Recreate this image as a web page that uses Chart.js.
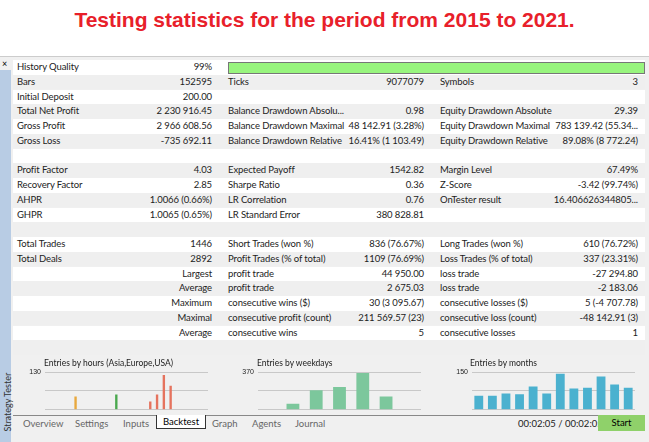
<!DOCTYPE html>
<html><head><meta charset="utf-8">
<script src="https://cdn.jsdelivr.net/npm/chart.js@4"></script>
<style>
body{margin:0;width:649px;height:442px;background:#fff;font-family:Lato,"Liberation Sans",sans-serif;overflow:hidden;position:relative}
#title{position:absolute;top:8px;left:0;width:649px;text-align:center;color:#e8202a;font:bold 21px "Liberation Sans",Arial,sans-serif}
#panel{position:absolute;top:56px;left:0;width:649px;height:386px;background:#f0f0f0;border-top:1px solid #ccc}
#strip{position:absolute;top:70px;left:0;width:11px;height:372px;background:#b8cce4}
#strip span{position:absolute;left:-28px;bottom:40px;transform:rotate(-90deg);font-size:9px;color:#333;white-space:nowrap;width:70px}
.row{position:absolute;left:13px;width:632px;height:14.7px;font-size:9.5px;letter-spacing:-0.1px;color:#222;line-height:14.7px}
.row div{position:absolute;white-space:nowrap}
.ch{position:absolute;top:364px;height:54px;width:189px}
.ct{position:absolute;top:358px;font-size:8.5px;color:#222}
#tabs{position:absolute;top:415px;left:13px;width:632px;height:16px;background:#f0f0f0;border-top:1px solid #888;font-size:9.5px;color:#666}
#tabs span{position:absolute;top:2px}
</style></head><body>
<div id="title">Testing statistics for the period from 2015 to 2021.</div>
<div id="panel"></div>
<div id="strip"><span>Strategy Tester</span></div>
<div style="position:absolute;top:58px;left:2px;font-size:9px">×</div>
<div id="rows"></div>
<div class="ch" style="left:23px"><canvas id="c1"></canvas></div>
<div class="ch" style="left:236px"><canvas id="c2"></canvas></div>
<div class="ch" style="left:450px"><canvas id="c3"></canvas></div>
<div class="ct" style="left:44px">Entries by hours (Asia,Europe,USA)</div>
<div class="ct" style="left:257px">Entries by weekdays</div>
<div class="ct" style="left:470px">Entries by months</div>
<div id="tabs">
<span style="left:10px">Overview</span><span style="left:62px">Settings</span><span style="left:110px">Inputs</span>
<span style="left:143px;top:-1px;background:#fff;border:1px solid #333;border-top:none;padding:1px 6px;color:#000">Backtest</span>
<span style="left:199px">Graph</span><span style="left:239px">Agents</span><span style="left:282px">Journal</span>
<span style="left:505px;color:#222">00:02:05 / 00:02:05</span>
<span style="left:585px;top:-1px;width:47px;height:16px;background:#8fd16a;color:#000;text-align:center;line-height:16px">Start</span>
</div>
<script>
const statRows = [
  ["History Quality","99%","","","",""],
  ["Bars","152595","Ticks","9077079","Symbols","3"],
  ["Initial Deposit","200.00","","","",""],
  ["Total Net Profit","2 230 916.45","Balance Drawdown Absolu...","0.98","Equity Drawdown Absolute","29.39"],
  ["Gross Profit","2 966 608.56","Balance Drawdown Maximal","48 142.91 (3.28%)","Equity Drawdown Maximal","783 139.42 (55.34..."],
  ["Gross Loss","-735 692.11","Balance Drawdown Relative","16.41% (1 103.49)","Equity Drawdown Relative","89.08% (8 772.24)"],
  ["","","","","",""],
  ["Profit Factor","4.03","Expected Payoff","1542.82","Margin Level","67.49%"],
  ["Recovery Factor","2.85","Sharpe Ratio","0.36","Z-Score","-3.42 (99.74%)"],
  ["AHPR","1.0066 (0.66%)","LR Correlation","0.76","OnTester result","16.406626344805..."],
  ["GHPR","1.0065 (0.65%)","LR Standard Error","380 828.81","",""],
  ["","","","","",""],
  ["Total Trades","1446","Short Trades (won %)","836 (76.67%)","Long Trades (won %)","610 (76.72%)"],
  ["Total Deals","2892","Profit Trades (% of total)","1109 (76.69%)","Loss Trades (% of total)","337 (23.31%)"],
  ["","Largest","profit trade","44 950.00","loss trade","-27 294.80"],
  ["","Average","profit trade","2 675.03","loss trade","-2 183.06"],
  ["","Maximum","consecutive wins ($)","30 (3 095.67)","consecutive losses ($)","5 (-4 707.78)"],
  ["","Maximal","consecutive profit (count)","211 569.57 (23)","consecutive loss (count)","-48 142.91 (3)"],
  ["","Average","consecutive wins","5","consecutive losses","1"],
  ["","","","","",""]
];
const hourLabels = Array.from({length:24},(_,i)=>String(i));
const hourValues = [0,0,0,0,46,0,0,0,0,0,53,0,0,0,0,29,53,120,83,0,0,0,0,0];
const hourColors = ["#e8a83e","#4aa84e","#e5735e"];
const dayLabels = ["Sun","Mon","Tue","Wed","Thu","Fri","Sat"];
const dayValues = [0,59,193,224,362,132,0];
const monthLabels = ["Jan","Feb","Mar","Apr","May","Jun","Jul","Aug","Sep","Oct","Nov","Dec"];
const monthValues = [56,56,65,62,93,65,144,85,88,133,101,88];

const rowsEl = document.getElementById("rows");
const cols = [[4,null],[null,199],[215,null],[null,411],[427,null],[null,625]];
statRows.forEach((r,i)=>{
  const d = document.createElement("div");
  d.className = "row";
  d.style.top = (60 + i*14.75) + "px";
  d.style.background = i%2 ? "#efefef" : "#fff";
  if (i === 0) d.innerHTML = '<div style="left:215px;top:2px;width:415px;height:10px;background:#98f57e;border:1px solid #777"></div>';
  r.forEach((t,j)=>{
    if (!t) return;
    const c = document.createElement("div");
    c.textContent = t;
    if (cols[j][0] !== null) c.style.left = cols[j][0] + "px";
    else c.style.right = (632 - cols[j][1]) + "px";
    d.appendChild(c);
  });
  rowsEl.appendChild(d);
});

function mini(id, labels, values, colors, max, pct) {
  new Chart(document.getElementById(id), {
    type: "bar",
    data: { labels, datasets: [{ data: values, backgroundColor: colors, barPercentage: pct, categoryPercentage: 1 }] },
    options: {
      responsive: true, maintainAspectRatio: false, animation: false,
      plugins: { legend: { display: false }, tooltip: { enabled: false } },
      layout: { padding: { right: 4, top: 8 } },
      scales: {
        x: { display: false },
        y: { min: 0, max, border: { display: false },
             grid: { color: "#c8c8c8", drawTicks: false },
             ticks: { stepSize: max/4, padding: 4, color: "#222", font: { size: 7 },
                      callback: (v) => v === max ? String(max) : "" },
             afterFit: (a) => { a.width = 22; } }
      }
    }
  });
}
mini("c1", hourLabels, hourValues,
  hourValues.map((v,i)=> i < 8 ? hourColors[0] : i < 15 ? hourColors[1] : hourColors[2]), 130, 0.35);
mini("c2", dayLabels, dayValues, "#7cc79c", 370, 0.55);
mini("c3", monthLabels, monthValues, "#4bb1cf", 150, 0.65);
</script>
</body></html>
